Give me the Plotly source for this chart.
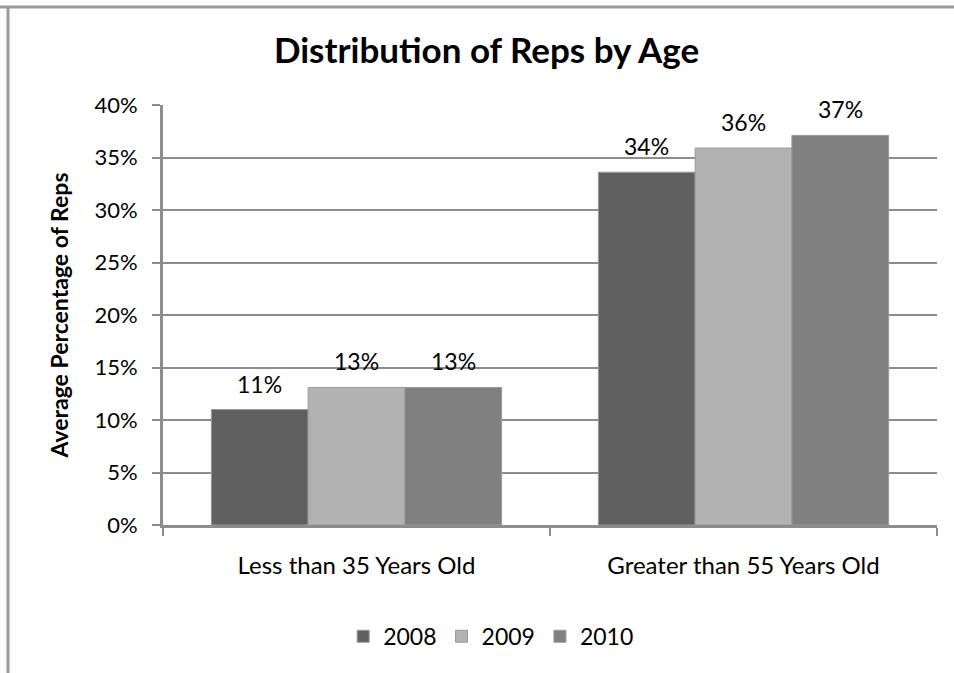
import plotly.graph_objects as go

categories = ["Less than 35 Years Old", "Greater than 55 Years Old"]
years = ["2008", "2009", "2010"]
values_2008 = [0.110, 0.336]
values_2009 = [0.131, 0.359]
values_2010 = [0.131, 0.371]
series = [values_2008, values_2009, values_2010]
colors = ["#606060", "#b2b2b2", "#808080"]
y_ticks = [0, 0.05, 0.10, 0.15, 0.20, 0.25, 0.30, 0.35, 0.40]

FONT = "Lato"
GRID = "#8c8c8c"
TXT = "#000000"

PLOT_W = 954 - 163 - 17
BARGAP = 0.25
bar_px = PLOT_W / len(categories) * (1 - BARGAP) / len(years)

fig = go.Figure()
for i, (year, vals, col) in enumerate(zip(years, series, colors)):
    fig.add_trace(go.Bar(
        name=year, x=categories, y=vals,
        marker=dict(color=col, line=dict(color="#9a9a9a", width=1)),
    ))
    # value labels floating above each bar
    for cat, v in zip(categories, vals):
        fig.add_annotation(
            x=cat, y=v, text=f"{v:.0%}", showarrow=False,
            xshift=(i - 1) * bar_px, yshift=26, yanchor="middle",
            font=dict(family=FONT, size=23, color=TXT),
        )

fig.update_layout(
    width=954, height=673,
    margin=dict(l=163, r=17, t=105, b=148),
    paper_bgcolor="white", plot_bgcolor="white",
    barmode="group", bargap=BARGAP, bargroupgap=0,
    title=dict(text="<b>Distribution of Reps by Age</b>", x=0.51, xanchor="center",
               y=0.924, yanchor="middle",
               font=dict(family=FONT, size=35, color=TXT)),
    legend=dict(orientation="h", x=0.424, xanchor="center", y=-0.265, yanchor="middle",
                font=dict(family=FONT, size=23, color=TXT),
                itemwidth=30, traceorder="normal"),
    xaxis=dict(tickson="boundaries", ticks="outside", ticklen=8, tickwidth=2,
               tickcolor=GRID, showline=True, linecolor=GRID, linewidth=3,
               ticklabelstandoff=17,
               tickfont=dict(family=FONT, size=24, color=TXT)),
    yaxis=dict(range=[0, 0.40], tickvals=y_ticks, tickformat=".0%",
               ticks="outside", ticklen=8, tickwidth=2, tickcolor=GRID,
               showgrid=True, gridcolor=GRID, gridwidth=2,
               showline=True, linecolor=GRID, linewidth=3,
               zeroline=False, ticklabelstandoff=10,
               tickfont=dict(family=FONT, size=22, color=TXT),
               title=dict(text="<b>Average Percentage of Reps</b>", standoff=20,
                          font=dict(family=FONT, size=23, color=TXT))),
    showlegend=True,
)

# outer frame: top and left edges
fig.add_shape(type="line", xref="paper", yref="paper",
              x0=-163/PLOT_W, x1=1+17/PLOT_W, y0=1+(105-7)/420, y1=1+(105-7)/420,
              line=dict(color="#9a9a9a", width=3))
fig.add_shape(type="line", xref="paper", yref="paper",
              x0=-(163-8)/PLOT_W, x1=-(163-8)/PLOT_W, y0=1+(105-7)/420, y1=-148/420,
              line=dict(color="#9a9a9a", width=3))

fig.write_html("out.html")
